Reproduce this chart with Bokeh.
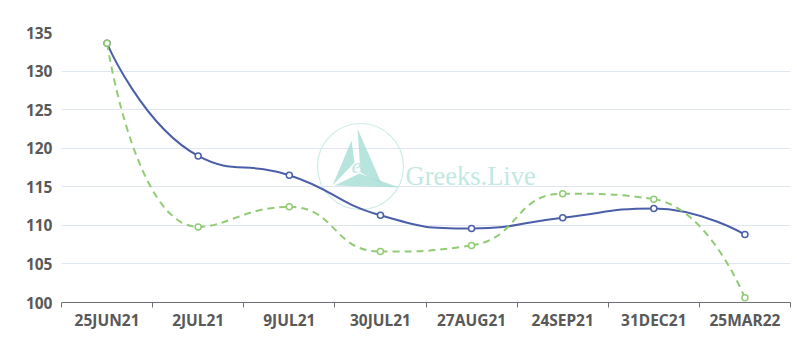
import math
from bokeh.plotting import figure
from bokeh.models import Range1d, FixedTicker, Label
from bokeh.core.properties import value
from bokeh.embed import file_html
from bokeh.resources import INLINE

categories = ["25JUN21", "2JUL21", "9JUL21", "30JUL21", "27AUG21", "24SEP21", "31DEC21", "25MAR22"]
series_blue = [133.6, 119.0, 116.5, 111.3, 109.6, 111.0, 112.2, 108.8]
series_green = [133.6, 109.8, 112.4, 106.6, 107.4, 114.1, 113.4, 100.6]
y_ticks = [100, 105, 110, 115, 120, 125, 130, 135]

W, H = 797, 340
LEFT, RIGHT, TOP, BOTTOM = 61, 7, 32, 38
Y0, Y1 = 100, 135
N = len(categories)

p = figure(width=W, height=H, output_backend="svg", toolbar_location=None,
           x_range=Range1d(0, N), y_range=Range1d(Y0, Y1),
           min_border_left=LEFT, min_border_right=RIGHT,
           min_border_top=TOP, min_border_bottom=BOTTOM)
p.outline_line_color = None
p.background_fill_color = "white"

fw = W - LEFT - RIGHT
fh = H - TOP - BOTTOM
sx = fw / N
sy = fh / (Y1 - Y0)

xs = [i + 0.5 for i in range(N)]

# axes
p.xaxis.ticker = FixedTicker(ticks=xs, minor_ticks=list(range(N + 1)))
p.xaxis.major_label_overrides = {x: c for x, c in zip(xs, categories)}
p.xaxis.major_tick_line_color = None
p.xaxis.major_tick_out = 0
p.xaxis.major_tick_in = 0
p.xaxis.minor_tick_line_color = "#6e7079"
p.xaxis.minor_tick_out = 5
p.xaxis.minor_tick_in = 0
p.xaxis.axis_line_color = "#6e7079"
p.xaxis.major_label_standoff = 1
p.yaxis.ticker = FixedTicker(ticks=y_ticks)
p.yaxis.axis_line_color = None
p.yaxis.major_tick_line_color = None
p.yaxis.major_tick_out = 0
p.yaxis.major_tick_in = 0
p.yaxis.minor_tick_line_color = None
p.yaxis.major_label_standoff = 9
for ax in (p.xaxis, p.yaxis):
    ax.major_label_text_font = "Noto Sans"
    ax.major_label_text_font_style = "bold"
    ax.major_label_text_font_size = "15.5px"
    ax.major_label_text_color = "#595959"
p.xgrid.grid_line_color = None
p.ygrid.ticker = FixedTicker(ticks=y_ticks)
p.ygrid.grid_line_color = "#e0e6f1"

# watermark (logo + brand text)
teal = "#a6ddd6"
cx = (360 - LEFT) / sx
cy = Y1 - (166 - TOP) / sy
def to_data(dx, dy):
    return cx + dx / sx, cy - dy / sy
p.scatter([cx], [cy], marker="circle", size=86, fill_color=None, line_color="#cdece8", line_width=1.2)
shards = [
    [(-9, -26), (-28, 19), (-6, -4)],
    [(-3, -38), (21, 17), (0, 6)],
    [(-26, 19), (39, 21), (-1, 7)],
]
for s in shards:
    pts = [to_data(a, b) for a, b in s]
    p.patch([q[0] for q in pts], [q[1] for q in pts], fill_color=teal, line_color=None, fill_alpha=0.8)
ex, ey = to_data(-4, -1)
p.text([ex], [ey], text=["e"], text_font=value("Liberation Serif"), text_font_style="italic",
       text_font_size="22px", text_color="#bfe6e0", text_align="center", text_baseline="middle")
p.add_layout(Label(x=cx, y=cy, x_offset=45, y_offset=-9, text="Greeks.Live",
                   text_font="Liberation Serif", text_font_size="26.5px", text_color="#c2e8e2",
                   text_baseline="alphabetic"))

def smooth_segments(vals, smooth=0.5):
    px = [x * sx for x in xs]
    py = [v * sy for v in vals]
    n = len(px)
    out_cp = [None] * n
    in_cp = [None] * n
    for i in range(n):
        x, y = px[i], py[i]
        if i == 0 or i == n - 1:
            out_cp[i] = (x, y)
            in_cp[i] = (x, y)
            continue
        prx, pry = px[i - 1], py[i - 1]
        nx, ny = px[i + 1], py[i + 1]
        vx, vy = nx - prx, ny - pry
        lp = math.hypot(x - prx, y - pry)
        ln = math.hypot(nx - x, ny - y)
        r = ln / (ln + lp)
        ncx = x + vx * smooth * r
        ncy = y + vy * smooth * r
        ncx = min(ncx, max(nx, x)); ncy = min(ncy, max(ny, y))
        ncx = max(ncx, min(nx, x)); ncy = max(ncy, min(ny, y))
        vx, vy = ncx - x, ncy - y
        c1x = x - vx * lp / ln
        c1y = y - vy * lp / ln
        c1x = min(c1x, max(prx, x)); c1y = min(c1y, max(pry, y))
        c1x = max(c1x, min(prx, x)); c1y = max(c1y, min(pry, y))
        vx, vy = x - c1x, y - c1y
        ncx = x + vx * ln / lp
        ncy = y + vy * ln / lp
        in_cp[i] = (c1x, c1y)
        out_cp[i] = (ncx, ncy)
    seg = dict(x0=[], y0=[], x1=[], y1=[], cx0=[], cy0=[], cx1=[], cy1=[])
    for i in range(n - 1):
        seg["x0"].append(xs[i]); seg["y0"].append(vals[i])
        seg["x1"].append(xs[i + 1]); seg["y1"].append(vals[i + 1])
        seg["cx0"].append(out_cp[i][0] / sx); seg["cy0"].append(out_cp[i][1] / sy)
        seg["cx1"].append(in_cp[i + 1][0] / sx); seg["cy1"].append(in_cp[i + 1][1] / sy)
    return seg

blue = "#4a5fa8"
green = "#91cc75"
sb = smooth_segments(series_blue)
p.bezier(x0=sb["x0"], y0=sb["y0"], x1=sb["x1"], y1=sb["y1"], cx0=sb["cx0"], cy0=sb["cy0"],
         cx1=sb["cx1"], cy1=sb["cy1"], line_color=blue, line_width=2)
sg = smooth_segments(series_green)
p.bezier(x0=sg["x0"], y0=sg["y0"], x1=sg["x1"], y1=sg["y1"], cx0=sg["cx0"], cy0=sg["cy0"],
         cx1=sg["cx1"], cy1=sg["cy1"], line_color=green, line_width=2, line_dash="7 5")
p.scatter(xs, series_blue, marker="circle", size=6, fill_color="white", line_color=blue, line_width=1.5)
p.scatter(xs, series_green, marker="circle", size=6, fill_color="white", line_color=green, line_width=1.5)

open("out.html", "w").write(file_html(p, INLINE))
